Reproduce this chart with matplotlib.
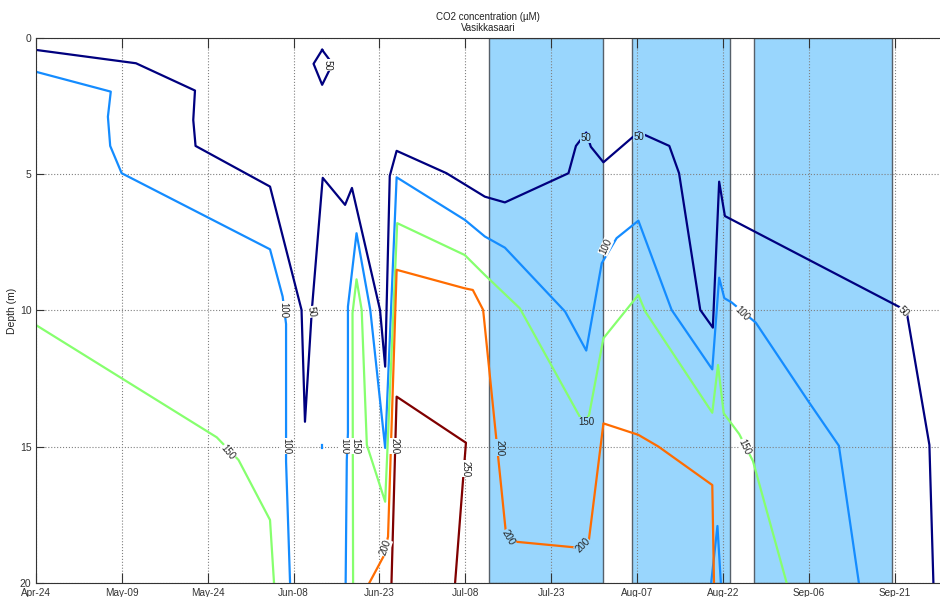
import numpy as np
import matplotlib.pyplot as plt

plt.rcParams['font.family'] = ['Liberation Sans', 'DejaVu Sans']

# Asse x: giorni dal 24 aprile
tick_days = [0, 15, 30, 45, 60, 75, 90, 105, 120, 135, 150]
tick_labels = ['Apr-24', 'May-09', 'May-24', 'Jun-08', 'Jun-23', 'Jul-08',
               'Jul-23', 'Aug-07', 'Aug-22', 'Sep-06', 'Sep-21']

# Periodi evidenziati (giorni)
span_start = [79.2, 104.1, 125.3]
span_end = [99.0, 121.2, 149.4]

# Isolinee CO2 (giorno, profondita')
c50_day = [0, 17.5, 27.8, 27.5, 27.9, 40.9, 46.4, 47.0, 48.2, 50.1, 54.0, 55.2,
           60.1, 61.0, 61.8, 63.0, 71.7, 78.4, 81.9, 93.0, 94.3, 96.1, 96.9, 99.1,
           104.3, 105.3, 110.6, 112.3, 116.0, 118.2, 119.3, 120.3, 152.0, 156.0, 156.7]
c50_depth = [0.45, 0.94, 1.94, 3.02, 3.97, 5.46, 9.98, 14.08, 9.98, 5.14, 6.13, 5.51,
             9.98, 12.06, 5.07, 4.15, 4.97, 5.83, 6.04, 4.97, 3.97, 3.48, 4.0, 4.57,
             3.63, 3.47, 3.97, 4.97, 9.98, 10.63, 5.28, 6.54, 10.01, 14.93, 20.0]
c50b_day = [50.0, 51.8, 50.0, 48.5, 50.0]
c50b_depth = [0.45, 0.96, 1.73, 0.96, 0.45]

c100_day = [0, 13.1, 12.6, 13.0, 15.0, 40.9, 43.1, 43.7, 43.7, 44.4]
c100_depth = [1.25, 1.98, 2.90, 3.97, 4.97, 7.76, 9.49, 10.5, 15.54, 20.0]
c100b_day = [54.1, 54.3, 54.5, 54.5, 56.0, 58.4, 61.0, 63.0, 74.9, 78.4, 81.9, 92.4,
             96.1, 98.8, 101.4, 105.2, 111.0, 118.1, 119.3, 120.2, 121.5, 125.7,
             134.9, 140.2, 143.7]
c100b_depth = [20.0, 15.48, 14.49, 9.86, 7.17, 9.98, 15.04, 5.12, 6.68, 7.29, 7.70,
               10.04, 11.47, 8.27, 7.35, 6.71, 9.98, 12.16, 8.80, 9.55, 9.71, 10.45,
               13.34, 14.96, 20.0]
c100c_day = [117.9, 119.0, 119.6]
c100c_depth = [20.0, 17.9, 20.0]
c100d_day = [50.0, 50.0]
c100d_depth = [14.92, 15.05]

c150_day = [0, 31.6, 35.4, 40.9, 41.6]
c150_depth = [10.53, 14.65, 15.48, 17.68, 20.0]
c150b_day = [55.4, 55.3, 56.0, 56.9, 57.8, 61.0, 63.1, 74.9, 78.4, 84.5, 94.8, 95.6,
             96.6, 99.1, 105.2, 106.4, 118.1, 119.1, 120.1, 122.8, 125.2, 131.1]
c150b_depth = [20.0, 10.10, 8.86, 9.98, 14.93, 17.01, 6.80, 7.97, 8.70, 9.92, 13.83,
               14.15, 13.83, 11.02, 9.43, 10.04, 13.75, 12.0, 13.77, 14.53, 15.52, 20.0]

c200_day = [58.2, 60.7, 61.5, 63.0, 74.9, 76.3, 78.1, 82.2, 83.4, 95.9, 96.5, 99.1,
            105.2, 108.7, 118.1, 118.4]
c200_depth = [20.0, 19.02, 18.29, 8.51, 9.19, 9.25, 9.98, 18.41, 18.47, 18.72, 18.52,
              14.14, 14.56, 14.99, 16.40, 20.0]

c250_day = [62.1, 63.0, 75.1, 74.5, 73.2]
c250_depth = [20.0, 13.16, 14.85, 16.46, 20.0]

# Etichette delle isolinee
lab_text = ['50', '50', '100', '100', '150', '100', '150', '200', '200', '250',
            '200', '200', '200', '150', '100', '50', '50', '100', '150', '50']
lab_day = [51.0, 48.2, 43.3, 43.7, 33.6, 53.8, 55.8, 62.6, 61.0, 75.1,
           80.9, 82.4, 95.5, 96.1, 99.5, 96.1, 105.3, 123.3, 123.8, 151.4]
lab_depth = [1.0, 10.05, 9.98, 14.97, 15.2, 14.97, 14.97, 14.97, 18.7, 15.8,
             15.04, 18.34, 18.6, 14.09, 7.67, 3.68, 3.64, 10.1, 15.0, 10.05]
lab_rot = [-90, -80, -90, -90, -50, -90, -90, -90, 70, -90,
           -90, -60, 45, 0, 65, 0, 0, -45, -65, -45]

col50 = '#00007f'
col100 = '#148cff'
col150 = '#86ff6e'
col200 = '#ff6c00'
col250 = '#800000'
span_col = '#99d6fd'

fig = plt.figure(figsize=(9.4, 5.97), dpi=100)
ax = fig.add_axes([0.038, 0.023, 0.962, 0.914])

for s, e in zip(span_start, span_end):
    ax.axvspan(s, e, facecolor=span_col, edgecolor='#56606a', linewidth=1.0, zorder=0.5)

lw = 1.6
ax.plot(c50_day, c50_depth, color=col50, lw=lw)
ax.plot(c50b_day, c50b_depth, color=col50, lw=lw)
ax.plot(c100_day, c100_depth, color=col100, lw=lw)
ax.plot(c100b_day, c100b_depth, color=col100, lw=lw)
ax.plot(c100c_day, c100c_depth, color=col100, lw=lw)
ax.plot(c100d_day, c100d_depth, color=col100, lw=lw)
ax.plot(c150_day, c150_depth, color=col150, lw=lw)
ax.plot(c150b_day, c150b_depth, color=col150, lw=lw)
ax.plot(c200_day, c200_depth, color=col200, lw=lw)
ax.plot(c250_day, c250_depth, color=col250, lw=lw)

for t, d, z, r in zip(lab_text, lab_day, lab_depth, lab_rot):
    inside = any(s <= d <= e for s, e in zip(span_start, span_end))
    bg = span_col if inside else 'white'
    ax.text(d, z, t, rotation=r, ha='center', va='center', fontsize=7,
            color='#222222', zorder=3,
            bbox=dict(facecolor=bg, edgecolor='none', pad=0.3))

ax.set_xlim(0, 157.85)
ax.set_ylim(20, 0)
ax.set_xticks(tick_days)
ax.set_xticklabels(tick_labels)
ax.set_yticks([0, 5, 10, 15, 20])
ax.tick_params(axis='both', direction='in', colors='#333333', top=True)
ax.tick_params(axis='x', length=7, pad=3.2, labelsize=7.2)
ax.tick_params(axis='y', length=5.5, pad=3, labelsize=7.5)
ax.grid(True, linestyle=':', color='#808080', linewidth=0.8)
ax.set_ylabel('Depth (m)', fontsize=7.5, color='#222222', labelpad=2)
ax.set_title('CO2 concentration (\u00b5M)\nVasikkasaari', fontsize=7, color='#222222',
             pad=5, linespacing=1.1)
for sp in ['top', 'left', 'bottom']:
    ax.spines[sp].set_color('#333333')
ax.spines['right'].set_visible(False)

fig.savefig('out.png', dpi=100)
